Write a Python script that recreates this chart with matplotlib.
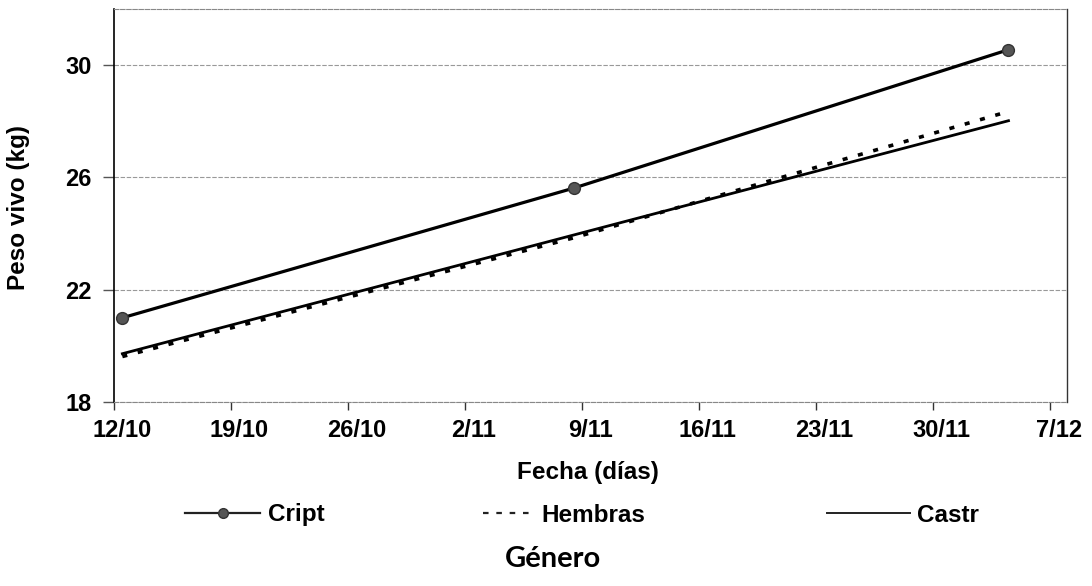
import matplotlib.pyplot as plt
from matplotlib.lines import Line2D
import pandas as pd

# datos
inicio = '2009-10-12'
fechas = ['2009-10-12', '2009-11-08', '2009-12-04']
cript = [21.0, 25.62, 30.55]
hembras = [19.62, 23.85, 28.35]
castr = [19.72, 23.95, 28.02]
etiquetas_x = ['12/10', '19/10', '26/10', '2/11', '9/11', '16/11', '23/11', '30/11', '7/12']
ticks_y = [18, 22, 26, 30]

# cada punto va al centro de su dia (eje de fechas tipo Excel)
dias = [(pd.Timestamp(f) - pd.Timestamp(inicio)).days + 0.5 for f in fechas]
ticks_x = [7 * i for i in range(len(etiquetas_x))]

fuente = 'Liberation Sans'
fig = plt.figure(figsize=(10.92, 5.86), dpi=100)
ax = fig.add_axes([114 / 1092, 1 - 402 / 586, 953 / 1092, 393 / 586])

ax.plot(dias, cript, color='black', lw=2.3, marker='o', ms=8.5,
        mfc='#555555', mec='#333333', zorder=3)
ax.plot(dias, hembras, color='black', lw=2.6, dashes=(1.4, 3), zorder=3)
ax.plot(dias, castr, color='black', lw=2.0, zorder=3)

ax.set_xlim(0, 57)
ax.set_ylim(18, 32)

ax.set_xticks(ticks_x)
ax.set_xticklabels([''] * len(ticks_x))
ax.set_xticks([t + 0.5 for t in ticks_x], minor=True)
ax.set_xticklabels(etiquetas_x, minor=True, fontfamily=fuente,
                   fontweight='bold', fontsize=17)
ax.tick_params(axis='x', which='major', length=6, width=1, color='#333333')
ax.tick_params(axis='x', which='minor', length=0, pad=12)

ax.set_yticks(ticks_y)
ax.set_yticklabels([str(v) for v in ticks_y], fontfamily=fuente,
                   fontweight='bold', fontsize=17)
ax.tick_params(axis='y', length=8, width=1, color='#555555', pad=8)

ax.grid(axis='y', color='#999999', lw=0.8, ls=(0, (4, 1.5)))
ax.spines['left'].set_color('black')
ax.spines['left'].set_linewidth(1.2)
ax.spines['right'].set_color('#333333')
ax.spines['right'].set_linewidth(1.0)
for s in ['top', 'bottom']:
    ax.spines[s].set_color('#888888')
    ax.spines[s].set_linewidth(0.8)
    ax.spines[s].set_linestyle((0, (4, 1.5)))

fig.text(19 / 1092, 1 - 208 / 586, 'Peso vivo (kg)', rotation=90, ha='center',
         va='center', fontfamily=fuente, fontweight='bold', fontsize=17.5)
fig.text(588 / 1092, 1 - 473 / 586, 'Fecha (días)', ha='center', va='center',
         fontfamily=fuente, fontweight='bold', fontsize=17.5)

prop = {'family': fuente, 'weight': 'bold', 'size': 17.5}
h_cript = Line2D([], [], color='#222222', lw=1.6, marker='o', ms=7,
                 mfc='#555555', mec='#333333')
h_hembras = Line2D([], [], color='#222222', lw=1.6, dashes=(2.5, 3.5))
h_castr = Line2D([], [], color='#222222', lw=1.4)
entradas = [(h_cript, 'Cript', 185, 3.1),
            (h_hembras, 'Hembras', 483, 2.1),
            (h_castr, 'Castr', 827, 3.4)]
for h, txt, x0, hl in entradas:
    fig.legend(handles=[h], labels=[txt], loc='center left',
               bbox_to_anchor=(x0 / 1092, 1 - 515 / 586), frameon=False,
               prop=prop, handlelength=hl, handletextpad=0.3, numpoints=1,
               borderpad=0, borderaxespad=0)

fig.text(553 / 1092, 1 - 559 / 586, 'Género', ha='center', va='center',
         fontfamily='Lato', fontweight='bold', fontsize=21, color='black')

fig.savefig('out.png', dpi=100)
